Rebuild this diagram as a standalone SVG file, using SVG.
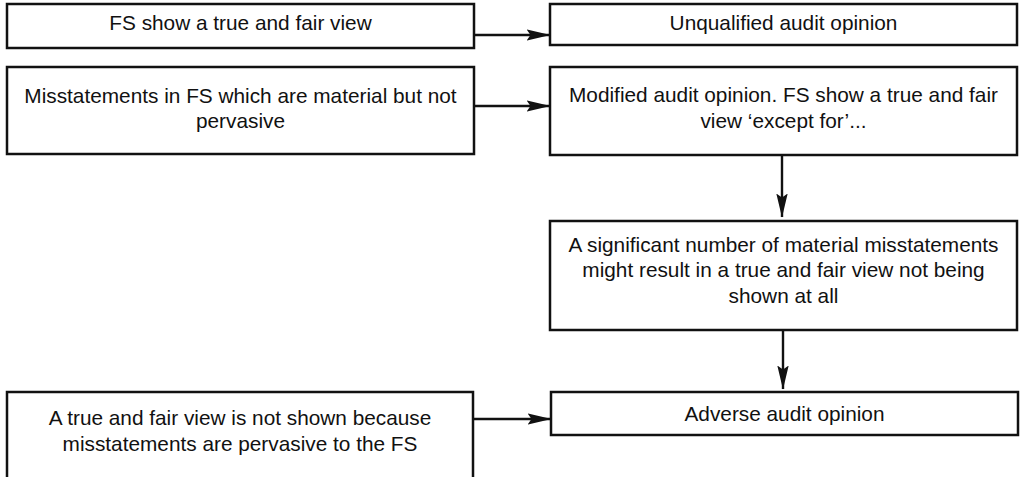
<svg xmlns="http://www.w3.org/2000/svg" width="1021" height="477" viewBox="0 0 1021 477">
  <style>
    .box { fill: #ffffff; stroke: #111111; stroke-width: 2.5; }
    .lbl { font-family: "Liberation Sans", Arial, sans-serif; font-size: 20.8px; fill: #111111; text-anchor: middle; }
    .conn { stroke: #111111; stroke-width: 2.4; fill: none; marker-end: url(#arrow); }
  </style>
  <defs>
    <marker id="arrow" markerUnits="userSpaceOnUse" viewBox="0 0 24 12" markerWidth="24" markerHeight="12" refX="23.5" refY="6" orient="auto">
      <path d="M0,0.3 L24,6 L0,11.7 L4,6 Z" fill="#111111"/>
    </marker>
  </defs>
  <rect width="1021" height="477" fill="#ffffff"/>

  <!-- connectors -->
  <g id="connectors">
    <line class="conn" x1="474" y1="35" x2="550" y2="35"/>
    <line class="conn" x1="474" y1="106" x2="550" y2="106"/>
    <line class="conn" x1="782" y1="155" x2="782" y2="217"/>
    <line class="conn" x1="783" y1="331" x2="783" y2="389"/>
    <line class="conn" x1="473" y1="419" x2="551" y2="419"/>
  </g>

  <g id="node-true-fair">
    <rect class="box" x="7" y="4" width="467" height="44"/>
    <text class="lbl" x="240.5" y="30">FS show a true and fair view</text>
  </g>

  <g id="node-material">
    <rect class="box" x="7" y="67" width="467" height="87"/>
    <text class="lbl" x="240.5" y="103">Misstatements in FS which are material but not</text>
    <text class="lbl" x="240.5" y="128">pervasive</text>
  </g>

  <g id="node-unqualified">
    <rect class="box" x="550" y="4" width="467" height="41"/>
    <text class="lbl" x="783.5" y="30">Unqualified audit opinion</text>
  </g>

  <g id="node-modified">
    <rect class="box" x="550" y="67" width="467" height="88"/>
    <text class="lbl" x="783.5" y="102">Modified audit opinion. FS show a true and fair</text>
    <text class="lbl" x="783.5" y="128">view ‘except for’...</text>
  </g>

  <g id="node-significant">
    <rect class="box" x="550" y="221" width="467" height="109"/>
    <text class="lbl" x="783.5" y="252">A significant number of material misstatements</text>
    <text class="lbl" x="783.5" y="277">might result in a true and fair view not being</text>
    <text class="lbl" x="783.5" y="303">shown at all</text>
  </g>

  <g id="node-pervasive">
    <rect class="box" x="7" y="392" width="466" height="100"/>
    <text class="lbl" x="240" y="425">A true and fair view is not shown because</text>
    <text class="lbl" x="240" y="451">misstatements are pervasive to the FS</text>
  </g>

  <g id="node-adverse">
    <rect class="box" x="551" y="392" width="467" height="43"/>
    <text class="lbl" x="784.5" y="421">Adverse audit opinion</text>
  </g>
</svg>
